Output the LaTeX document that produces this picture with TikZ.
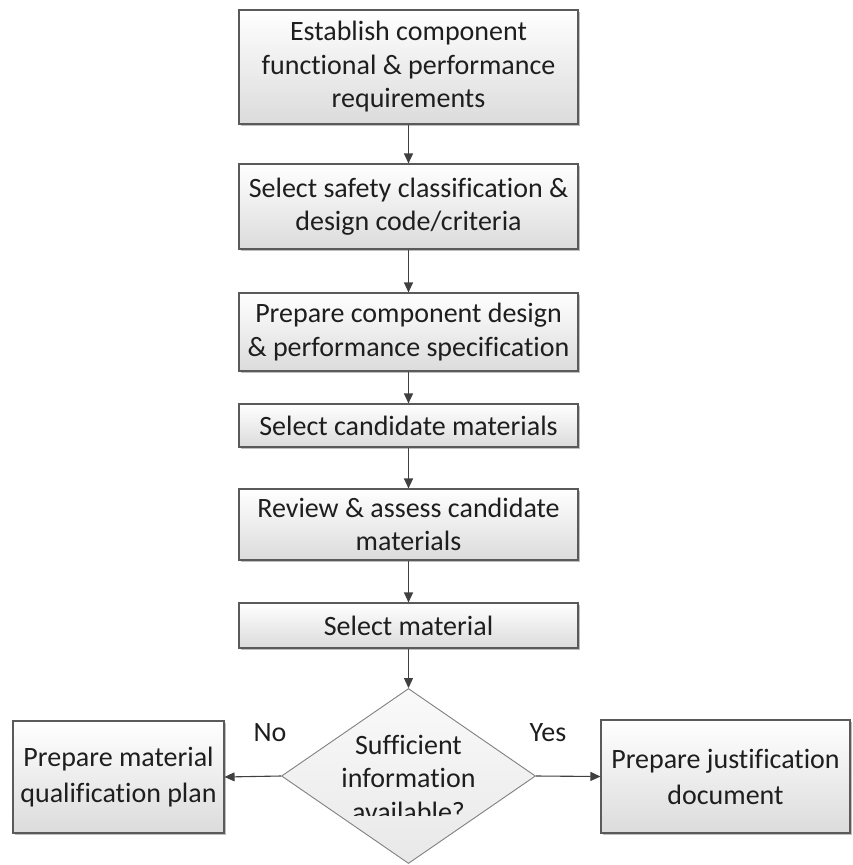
\documentclass[tikz,border=0pt]{standalone}
\usepackage{fontspec}
\setmainfont[Ligatures=NoCommon]{Carlito}
\usetikzlibrary{shapes.geometric,arrows.meta,shadows}
\definecolor{edge}{HTML}{5A5A5A}
\definecolor{arr}{HTML}{404040}
\definecolor{ink}{HTML}{1E1E1E}
\begin{document}
\begin{tikzpicture}[x=1pt,y=1pt,
  procbox/.style={rectangle, draw=edge, line width=1.1pt, top color=white, bottom color=black!14,
    minimum width=339pt, align=center, text=ink, font=\fontsize{28}{33.5}\selectfont, inner sep=0pt,
    drop shadow={shadow xshift=2pt, shadow yshift=-2pt, opacity=0.25, fill=black}},
  sidebox/.style={procbox, font=\fontsize{28}{36}\selectfont},
  decision/.style={diamond, draw=black!50, line width=0.9pt, top color=black!2, bottom color=black!9, inner sep=0pt},
  flow/.style={draw=arr, line width=1.1pt, -{Triangle[length=10pt,width=9pt]}},
  lbl/.style={text=ink, font=\fontsize{28}{34}\selectfont, inner sep=0pt}
]
\useasboundingbox (0,0) rectangle (853,-865);
\node[procbox, minimum height=114pt] (b1) at (408.5,-67) {Establish component\\functional \& performance\\requirements};
\node[procbox, minimum height=85pt] (b2) at (408.5,-206.5) {Select safety classification \&\\design code/criteria};
\node[procbox, minimum height=78pt] (b3) at (408.5,-332) {Prepare component design\\\& performance specification};
\node[procbox, minimum height=43pt] (b4) at (408.5,-425.5) {Select candidate materials};
\node[procbox, minimum height=71pt] (b5) at (408.5,-524.5) {Review \& assess candidate\\materials};
\node[procbox, minimum height=45pt] (b6) at (408.5,-625.5) {Select material};
\node[decision, minimum width=254pt, minimum height=175pt] (d) at (408.5,-776) {};
\begin{scope}
\clip (300,-700) rectangle (520,-815);
\node[lbl, align=center, font=\fontsize{28}{33.5}\selectfont] (dt) at (408.5,-778) {Sufficient\\information\\available?};
\end{scope}
\node[sidebox, minimum width=211pt, minimum height=112pt] (lb) at (118.5,-777) {Prepare material\\qualification plan};
\node[sidebox, minimum width=249pt, minimum height=113pt] (rb) at (725.5,-776.5) {Prepare justification\\document};
\node[lbl] (no) at (270,-733) {No};
\node[lbl] (yes) at (548,-733) {Yes};
\draw[flow] (b1) -- (b2);
\draw[flow] (b2) -- (b3);
\draw[flow] (b3) -- (b4);
\draw[flow] (b4) -- (b5);
\draw[flow] (b5) -- (b6);
\draw[flow] (b6) -- (d.north);
\draw[flow] (d.west) -- (lb.east);
\draw[flow] (d.east) -- (rb.west);
\end{tikzpicture}
\end{document}
